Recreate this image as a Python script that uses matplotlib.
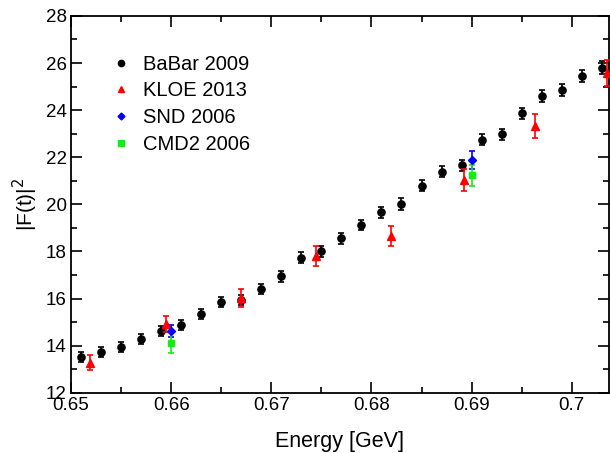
import numpy as np
import matplotlib
matplotlib.use("Agg")
import matplotlib.pyplot as plt
from matplotlib.ticker import MultipleLocator
from matplotlib.lines import Line2D

plt.rcParams['font.family'] = ['Liberation Sans', 'DejaVu Sans']

# ---- data ----
babar_E = [0.651, 0.653, 0.655, 0.657, 0.659, 0.661, 0.663, 0.665, 0.667, 0.669,
           0.671, 0.673, 0.675, 0.677, 0.679, 0.681, 0.683, 0.685, 0.687, 0.689,
           0.691, 0.693, 0.695, 0.697, 0.699, 0.701, 0.703]
babar_F = [13.51, 13.73, 13.94, 14.30, 14.64, 14.88, 15.34, 15.85, 15.94, 16.41,
           16.94, 17.74, 18.00, 18.55, 19.12, 19.66, 20.02, 20.80, 21.39, 21.65,
           22.75, 22.97, 23.86, 24.60, 24.87, 25.46, 25.80]
babar_err = [0.20, 0.20, 0.20, 0.21, 0.21, 0.21, 0.22, 0.22, 0.22, 0.22,
             0.22, 0.23, 0.23, 0.23, 0.23, 0.24, 0.24, 0.24, 0.24, 0.25,
             0.25, 0.25, 0.25, 0.26, 0.26, 0.26, 0.27]

kloe_E = [0.6519, 0.6595, 0.667, 0.6745, 0.682, 0.6892, 0.6963, 0.7035]
kloe_F = [13.28, 14.92, 16.02, 17.82, 18.67, 21.04, 23.32, 25.56]
kloe_err = [0.32, 0.35, 0.38, 0.42, 0.42, 0.47, 0.51, 0.55]

snd_E = [0.660, 0.690]
snd_F = [14.61, 21.87]
snd_err = [0.26, 0.38]

cmd2_E = [0.660, 0.690]
cmd2_F = [14.13, 21.23]
cmd2_err = [0.43, 0.44]

fig = plt.figure(figsize=(6.10, 4.53), dpi=100)
ax = fig.add_axes([0.1164, 0.133, 0.8816, 0.8318])

ax.errorbar(babar_E, babar_F, yerr=babar_err, fmt='o', color='black', ms=5.2,
            elinewidth=1.2, capsize=2, capthick=1.2, zorder=3)
ax.errorbar(kloe_E, kloe_F, yerr=kloe_err, fmt='^', color='#ff0000', ms=5.5,
            elinewidth=1.2, capsize=2.5, capthick=1.2, zorder=4)
ax.errorbar(snd_E, snd_F, yerr=snd_err, fmt='D', color='#0000ff', ms=4,
            elinewidth=1.2, capsize=2.5, capthick=1.2, zorder=4)
ax.errorbar(cmd2_E, cmd2_F, yerr=cmd2_err, fmt='s', color='#11ee11', ms=4.5,
            elinewidth=1.2, capsize=2.5, capthick=1.2, zorder=4)

ax.set_xlim(0.65, 0.7037)
ax.set_ylim(12, 28)
ax.xaxis.set_minor_locator(MultipleLocator(0.005))
ax.yaxis.set_major_locator(MultipleLocator(2))
ax.yaxis.set_minor_locator(MultipleLocator(1))
ax.set_xticks([0.65, 0.66, 0.67, 0.68, 0.69, 0.70])
ax.set_xticklabels(['0.65', '0.66', '0.67', '0.68', '0.69', '0.7'])

ax.tick_params(which='both', direction='in', top=True, right=True, labelsize=13.5, width=1.2)
ax.tick_params(which='major', length=8, pad=3)
ax.tick_params(which='minor', length=4)
for s in ax.spines.values():
    s.set_linewidth(1.3)

ax.set_xlabel('Energy [GeV]', fontsize=15.5, labelpad=12)
ax.set_ylabel(r'|F(t)|$^2$', fontsize=15, labelpad=4)

# legend: markers only
handles = [Line2D([], [], ls='none', marker='o', color='black', ms=4.5),
           Line2D([], [], ls='none', marker='^', color='#ff0000', ms=4.5),
           Line2D([], [], ls='none', marker='D', color='#0000ff', ms=3.5),
           Line2D([], [], ls='none', marker='s', color='#11ee11', ms=4)]
labels = ['BaBar 2009', 'KLOE 2013', 'SND 2006', 'CMD2 2006']
ax.legend(handles, labels, loc='upper left', bbox_to_anchor=(0.036, 0.945), frameon=False,
          fontsize=14.5, handletextpad=0.5, labelspacing=0.38, handlelength=1.2)

fig.savefig('out.png', dpi=100)
